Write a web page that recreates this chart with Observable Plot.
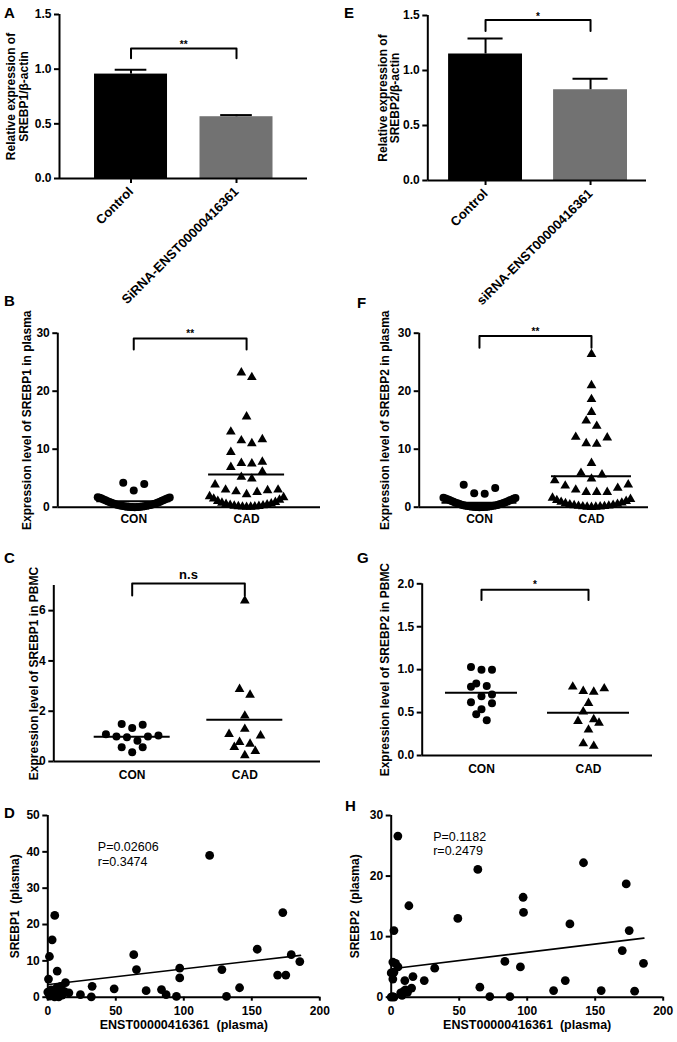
<!DOCTYPE html>
<html><head><meta charset="utf-8">
<script src="https://cdn.jsdelivr.net/npm/d3@7"></script>
<script src="https://cdn.jsdelivr.net/npm/@observablehq/plot@0.6"></script>
<style>
html,body{margin:0;padding:0;background:#fff;}
#fig{position:relative;width:677px;height:1042px;overflow:hidden;font-family:'Liberation Sans',Arial,sans-serif;color:#000;}
.panel{position:absolute;}
.panel svg{overflow:visible;display:block;}
.letter{position:absolute;font-weight:bold;font-size:15px;line-height:15px;}
[aria-label^="x-axis"] line,[aria-label^="y-axis"] line,[aria-label^="x-axis"] path,[aria-label^="y-axis"] path{stroke-width:2px;}
.bar [aria-label^="x-axis"] text{font-size:13px;}
</style></head>
<body><div id="fig"></div>
<script>
// ---------------- DATA ----------------
// Panels A / E : bar charts
const barLabelsA = ["Control", "SiRNA-ENST00000416361"];
const barLabelsE = ["Control", "siRNA-ENST00000416361"];
const barMeanA = [0.955, 0.565];
const barErrA = [0.04, 0.015];
const barMeanE = [1.15, 0.825];
const barErrE = [0.14, 0.10];
const barFill = ["#000000", "#727272"];
const barYTicks = [0, 0.5, 1.0, 1.5];
const bracketA = [1.10, 1.19];
const bracketE = [1.36, 1.46];

// Panels B, C, F, G : dot plots
const dotGroups = ["CON", "CAD"];
const plasma1CON = [0.01,0.02,0.03,0.04,0.05,0.06,0.08,0.1,0.12,0.14,0.17,0.2,0.23,0.26,0.3,0.34,0.38,0.42,0.47,0.52,0.57,0.63,0.69,0.75,0.82,0.89,0.96,1.03,1.1,1.18,1.26,1.34,1.42,1.5,1.56,1.62,1.66,1.7,4.0,2.9,4.2];
const plasma1CAD = [23.2,22.4,15.6,13.0,11.7,11.5,11.0,9.5,7.8,7.6,7.5,6.9,6.1,5.2,4.9,3.9,3.0,3.0,2.9,2.7,2.6,2.2,1.85,1.7,1.45,1.25,1.05,0.88,0.74,0.62,0.52,0.43,0.35,0.28,0.22,0.17,0.13,0.1,0.07,0.05,0.03];
const plasma1Mean = [1.03, 5.64];
const bracketB = [27.2, 29.1];

const plasma2CON = [0.01,0.02,0.03,0.04,0.05,0.06,0.07,0.09,0.11,0.13,0.15,0.18,0.21,0.24,0.27,0.31,0.35,0.39,0.44,0.49,0.54,0.6,0.66,0.72,0.78,0.85,0.92,0.99,1.06,1.14,1.22,1.3,1.38,1.45,1.52,1.58,1.63,3.85,2.4,2.3,3.3];
const plasma2CAD = [26.4,21.0,18.6,16.4,14.9,14.0,12.0,12.1,10.9,11.0,7.6,5.6,5.9,4.6,4.9,3.7,3.9,3.0,2.6,2.6,2.6,3.3,1.6,1.4,1.2,1.05,0.9,0.76,0.65,0.55,0.46,0.38,0.31,0.25,0.2,0.16,0.12,0.09,0.06,0.04,0.02];
const plasma2Mean = [0.76, 5.34];
const bracketF = [27.5, 29.5];

const pbmc1CON = [1.49,1.33,1.46,1.08,0.99,0.96,0.83,0.99,1.03,0.57,0.57,0.37];
const pbmc1CAD = [6.4,2.88,2.65,1.82,1.09,1.29,1.03,0.77,0.70,0.57,0.41,0.24];
const pbmc1Mean = [0.98, 1.66];
const bracketC = [6.6, 7.08];

const pbmc2CON = [1.03,1.00,1.00,0.84,0.80,0.81,0.71,0.69,0.61,0.62,0.54,0.48,0.41];
const pbmc2CAD = [0.80,0.75,0.74,0.78,0.61,0.51,0.42,0.38,0.40,0.30,0.11,0.14];
const pbmc2Mean = [0.73, 0.497];
const bracketG = [1.81, 1.93];

// Panels D / H : correlations
const ensD = [0,0.5,1.2,3.2,5.1,6.9,1.5,2.5,4,5,6.5,8,9.5,10.5,12,13,15.5,24,32,32.6,48.8,63.2,65.2,72.3,83.6,87,94.6,97,97,119,128,131.4,141,154,169,175,172.8,179,185.3,3,7];
const srebp1D = [1.4,5.0,11.2,15.8,22.5,7.2,0.3,2.0,1.0,0.1,2.6,0.1,3.0,0.6,1.6,4.0,1.2,0.7,0.1,3.0,2.3,11.7,7.6,1.8,2.1,0.7,0.2,8.0,5.3,39.0,7.6,0.2,2.6,13.2,6.1,6.1,23.3,11.7,9.8,0.5,1.8];
const fitD = [{x: 0.7, y: 3.5}, {x: 185.8, y: 11.5}];
const statsD = ["P=0.02606", "r=0.3474"];

const ensH = [4.9,2,13,1.2,3.2,0,1.2,2,0,2,7,9.3,10.5,10,15,16,24.3,32,49,63.7,65.2,72.5,83.6,87.3,95,97,97.3,119.4,128,131.4,141.4,154.4,169.9,172.8,175,179,185.5,8,12,5,1];
const srebp2H = [26.6,11.0,15.1,5.8,5.6,4.0,3.0,4.1,0,0,0.7,1.0,1.2,2.75,1.5,3.4,2.75,4.8,13.0,21.1,1.65,0.1,5.9,0.1,5.0,16.5,14.0,1.1,2.75,12.1,22.2,1.1,7.7,18.7,11.0,1.0,5.6,0.3,0.8,5.0,0.1];
const fitH = [{x: 0.7, y: 4.7}, {x: 185.8, y: 9.75}];
const statsH = ["P=0.1182", "r=0.2479"];
const corrXTicks = [0, 50, 100, 150, 200];

// ---------------- HELPERS ----------------
const FONT = "'Liberation Sans', Arial, Helvetica, sans-serif";
const baseStyle = {fontFamily: FONT, fontSize: "12px", fontWeight: "bold", color: "#000", background: "transparent", overflow: "visible"};
const fig = document.getElementById("fig");

function place(svg, left, top, cls) {
  const d = document.createElement("div");
  d.className = "panel" + (cls ? " " + cls : "");
  d.style.left = left + "px";
  d.style.top = top + "px";
  d.appendChild(svg);
  fig.appendChild(d);
}
function letter(t, left, baseline) {
  const d = document.createElement("div");
  d.className = "letter";
  d.textContent = t;
  d.style.left = left + "px";
  d.style.top = (baseline - 12.5) + "px";
  fig.appendChild(d);
}

// GraphPad-like column scatter: rows of nearby values, spread from the centre outwards
function swarm(values, center, rowUnit, pxPerX, gapPx, maxHalfPx) {
  const sorted = values.slice().sort((a, b) => a - b);
  const rows = [];
  let cur = null;
  for (const v of sorted) {
    if (!cur || v - cur.start > rowUnit) { cur = {start: v, vals: []}; rows.push(cur); }
    cur.vals.push(v);
  }
  const out = [];
  for (const row of rows) {
    const k = row.vals.length;
    const s = k > 1 ? Math.min(gapPx, 2 * maxHalfPx / (k - 1)) : 0;
    row.vals.forEach((v, i) => {
      let j;
      if (k % 2) j = i === 0 ? 0 : (i % 2 ? (i + 1) / 2 : -i / 2);
      else j = i % 2 === 0 ? i / 2 + 0.5 : -((i - 1) / 2 + 0.5);
      out.push({x: center + j * s / pxPerX, y: v});
    });
  }
  return out;
}

function bracketPts(b) {
  return [{x: 1, y: b[0]}, {x: 1, y: b[1]}, {x: 2, y: b[1]}, {x: 2, y: b[0]}];
}

function yLabelMark(label, dx) {
  return Plot.text([label], {frameAnchor: "left", textAnchor: "middle", lineAnchor: "middle", rotate: -90, dx, text: d => d});
}

function barPanel(o) {
  const bars = o.means.map((m, i) => ({x: i + 1, m, e: o.errs[i], fill: barFill[i]}));
  return Plot.plot({
    width: o.width, height: o.height,
    marginLeft: o.ml, marginRight: o.mr, marginTop: o.mt, marginBottom: o.mb,
    style: baseStyle,
    color: {type: "identity"},
    x: {domain: o.xDomain, ticks: [1, 2], tickFormat: d => o.labels[d - 1], tickRotate: -45, tickSize: 5, tickPadding: 6, label: null},
    y: {domain: [0, 1.5], ticks: barYTicks, tickFormat: d3.format(".1f"), tickSize: 5, tickPadding: 3, label: null},
    marks: [
      Plot.rectY(bars, {x1: d => d.x - o.halfW, x2: d => d.x + o.halfW, y1: 0, y2: "m", fill: "fill"}),
      Plot.ruleX(bars, {x: "x", y1: "m", y2: d => d.m + d.e, strokeWidth: 2}),
      Plot.ruleY(bars, {y: d => d.m + d.e, x1: d => d.x - o.cap, x2: d => d.x + o.cap, strokeWidth: 2}),
      Plot.ruleY([0], {strokeWidth: 2}),
      Plot.ruleX([o.xDomain[0]], {y1: 0, y2: 1.5, strokeWidth: 2}),
      Plot.line(bracketPts(o.bracket), {x: "x", y: "y", strokeWidth: 2}),
      Plot.text([o.sig], {x: 1.5, y: o.bracket[1], text: d => d, lineAnchor: "bottom", dy: 0, fontSize: 10}),
      yLabelMark(o.yLabel[0], o.labelDx[0]),
      yLabelMark(o.yLabel[1], o.labelDx[1])
    ]
  });
}

function dotPanel(o) {
  const iw = o.width - o.ml - o.mr;
  const pxPerX = iw / (o.xDomain[1] - o.xDomain[0]);
  const con = swarm(o.con, 1, o.rowUnit, pxPerX, 10.5, o.spread[0]);
  const cad = swarm(o.cad, 2, o.rowUnit, pxPerX, 10.5, o.spread[1]);
  const means = o.means.map((m, i) => ({x: i + 1, y: m, h: o.meanHalf[i] / pxPerX}));
  return Plot.plot({
    width: o.width, height: o.height,
    marginLeft: o.ml, marginRight: o.mr, marginTop: o.mt, marginBottom: o.mb,
    style: baseStyle,
    x: {domain: o.xDomain, ticks: [1, 2], tickFormat: d => dotGroups[d - 1], tickSize: 0, tickPadding: o.xPad, label: null},
    y: {domain: o.yDomain, ticks: o.yTicks, tickFormat: o.fmt, tickSize: 5, tickPadding: 3, label: null},
    marks: [
      Plot.ruleY([o.yDomain[0]], {strokeWidth: 2}),
      Plot.ruleX([o.xDomain[0]], {y1: o.yDomain[0], y2: o.yDomain[1], strokeWidth: 2}),
      Plot.dot(con, {x: "x", y: "y", r: 4, fill: "black"}),
      Plot.dot(cad, {x: "x", y: "y", r: 3.6, symbol: "triangle", fill: "black"}),
      Plot.ruleY(means, {y: "y", x1: d => d.x - d.h, x2: d => d.x + d.h, strokeWidth: 2}),
      Plot.line(bracketPts(o.bracket), {x: "x", y: "y", strokeWidth: 2}),
      Plot.text([o.sig], {x: 1.5, y: o.bracket[1], text: d => d, lineAnchor: "bottom", dy: o.sigDy, fontSize: o.sigSize}),
      yLabelMark(o.yLabel, o.labelDx)
    ]
  });
}

function scatterPanel(o) {
  const pts = o.xs.map((x, i) => ({x, y: o.ys[i]}));
  return Plot.plot({
    width: o.width, height: o.height,
    marginLeft: o.ml, marginRight: o.mr, marginTop: o.mt, marginBottom: o.mb,
    style: baseStyle,
    x: {domain: [0, 200], ticks: corrXTicks, tickSize: 4, tickPadding: 5, label: null},
    y: {domain: o.yDomain, ticks: o.yTicks, tickSize: 5, tickPadding: 3, label: null},
    marks: [
      Plot.ruleY([0], {strokeWidth: 2}),
      Plot.ruleX([0], {y1: o.yDomain[0], y2: o.yDomain[1], strokeWidth: 2}),
      Plot.dot(pts, {x: "x", y: "y", r: 4.4, fill: "black"}),
      Plot.line(o.fit, {x: "x", y: "y", strokeWidth: 1.6}),
      Plot.text([o.stats[0]], {frameAnchor: "top-left", textAnchor: "start", dx: o.statDx, dy: o.statDy[0], text: d => d, fontWeight: "normal", fontSize: 12.5}),
      Plot.text([o.stats[1]], {frameAnchor: "top-left", textAnchor: "start", dx: o.statDx, dy: o.statDy[1], text: d => d, fontWeight: "normal", fontSize: 12.5}),
      Plot.text(["ENST00000416361\u00a0 (plasma)"], {frameAnchor: "bottom", textAnchor: "middle", dy: 32, text: d => d, fontSize: 12.5}),
      yLabelMark(o.yLabel, o.labelDx)
    ]
  });
}

// ---------------- PANELS ----------------
place(barPanel({width: 338, height: 290, ml: 59, mr: 31, mt: 14, mb: 112,
  xDomain: [0.322, 2.673], labels: barLabelsA, means: barMeanA, errs: barErrA,
  halfW: 0.346, cap: 0.15, bracket: bracketA, sig: "**",
  yLabel: ["Relative expression of", "SREBP1/\u03b2-actin"], labelDx: [-48, -35]}), 0, 0, "bar");

place(barPanel({width: 338, height: 290, ml: 88.3, mr: 31, mt: 15, mb: 110,
  xDomain: [0.45, 2.533], labels: barLabelsE, means: barMeanE, errs: barErrE,
  halfW: 0.352, cap: 0.167, bracket: bracketE, sig: "*",
  yLabel: ["Relative expression of", "SREBP2/\u03b2-actin"], labelDx: [-45, -33]}), 339, 0, "bar");

place(dotPanel({width: 338, height: 250, ml: 57.3, mr: 18, mt: 42.7, mb: 33.3,
  xDomain: [0.327, 2.655], yDomain: [0, 30], yTicks: [0, 10, 20, 30], fmt: d3.format("d"),
  con: plasma1CON, cad: plasma1CAD, means: plasma1Mean, meanHalf: [37, 38], spread: [36, 37],
  rowUnit: 2, bracket: bracketB, sig: "**", sigDy: -1, sigSize: 10, xPad: 7,
  yLabel: "Expression level of SREBP1 in plasma", labelDx: -31}), 0, 290);

place(dotPanel({width: 338, height: 250, ml: 79.7, mr: 29, mt: 42.7, mb: 33.3,
  xDomain: [0.462, 2.509], yDomain: [0, 30], yTicks: [0, 10, 20, 30], fmt: d3.format("d"),
  con: plasma2CON, cad: plasma2CAD, means: plasma2Mean, meanHalf: [37.5, 40], spread: [36, 39],
  rowUnit: 2, bracket: bracketF, sig: "**", sigDy: -1, sigSize: 10, xPad: 7,
  yLabel: "Expression level of SREBP2 in plasma", labelDx: -34}), 339, 290);

place(dotPanel({width: 338, height: 245, ml: 53.3, mr: 18, mt: 45, mb: 24,
  xDomain: [0.304, 2.672], yDomain: [0, 7], yTicks: [0, 2, 4, 6], fmt: d3.format("d"),
  con: pbmc1CON, cad: pbmc1CAD, means: pbmc1Mean, meanHalf: [38, 38], spread: [30, 30],
  rowUnit: 0.4, bracket: bracketC, sig: "n.s", sigDy: -4, sigSize: 13, xPad: 9,
  yLabel: "Expression level of SREBP1 in PBMC", labelDx: -20}), 0, 540);

place(dotPanel({width: 338, height: 245, ml: 82.7, mr: 25, mt: 43.3, mb: 30,
  xDomain: [0.446, 2.598], yDomain: [0, 2], yTicks: [0, 0.5, 1, 1.5, 2], fmt: d3.format(".1f"),
  con: pbmc2CON, cad: pbmc2CAD, means: pbmc2Mean, meanHalf: [36, 41], spread: [30, 30],
  rowUnit: 0.117, bracket: bracketG, sig: "*", sigDy: -1.5, sigSize: 10, xPad: 9,
  yLabel: "Expression level of SREBP2 in PBMC", labelDx: -37}), 339, 540);

place(scatterPanel({width: 338, height: 257, ml: 47.3, mr: 18.7, mt: 30, mb: 45.3,
  xs: ensD, ys: srebp1D, fit: fitD, yDomain: [0, 50], yTicks: [0, 10, 20, 30, 40, 50],
  stats: statsD, statDx: 50, statDy: [27, 42],
  yLabel: "SREBP1\u00a0 (plasma)", labelDx: -33}), 0, 785);

place(scatterPanel({width: 338, height: 257, ml: 51.7, mr: 14.3, mt: 30, mb: 45.3,
  xs: ensH, ys: srebp2H, fit: fitH, yDomain: [0, 30], yTicks: [0, 10, 20, 30],
  stats: statsH, statDx: 42, statDy: [16.7, 31],
  yLabel: "SREBP2\u00a0 (plasma)", labelDx: -36}), 339, 785);

letter("A", 4, 17); letter("E", 344, 17);
letter("B", 4, 305); letter("F", 357, 307);
letter("C", 4, 562); letter("G", 357, 562);
letter("D", 4, 817); letter("H", 345, 810);
</script></body></html>
